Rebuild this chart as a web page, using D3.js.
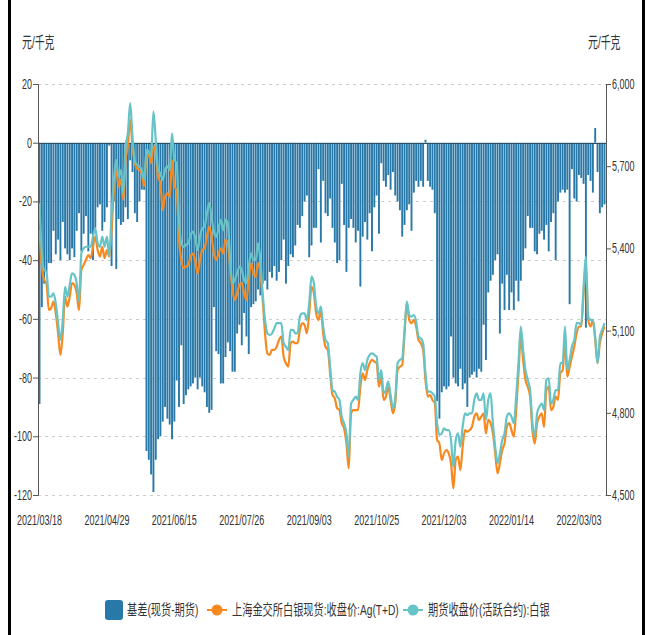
<!DOCTYPE html>
<html>
<head>
<meta charset="utf-8">
<script src="https://cdn.jsdelivr.net/npm/d3@7"></script>
<style>
    body { margin: 0; background: #fff; }
    svg { display: block; }
</style>
</head>
<body>
<svg id="chart" width="648" height="635"></svg>
<script>
"use strict";

// trading days run from 2021/03/18 to 2022/03/18, weekends and these holidays skipped
const startDay = "2021-03-18";
const endDay = "2022-03-18";
const holidays = ["2021-04-05", "2021-05-03", "2021-05-04", "2021-05-05", "2021-06-14",
    "2021-09-20", "2021-09-21", "2021-10-01", "2021-10-04", "2021-10-05", "2021-10-06",
    "2021-10-07", "2022-01-03", "2022-01-31", "2022-02-01", "2022-02-02", "2022-02-03",
    "2022-02-04"];

const tickDates = ["2021/03/18", "2021/04/29", "2021/06/15", "2021/07/26", "2021/09/03",
    "2021/10/25", "2021/12/03", "2022/01/14", "2022/03/03"];
const leftTicks = [20, 0, -20, -40, -60, -80, -100, -120];
const rightTicks = [6000, 5700, 5400, 5100, 4800, 4500];

const seriesNames = ["基差(现货-期货)", "上海金交所白银现货:收盘价:Ag(T+D)", "期货收盘价(活跃合约):白银"];
const unitLabel = "元/千克";

// 基差 (left axis)
const basis = [-89,-56,-48,-44,-41,-41,-30,-38,-33,-40,
    -27,-36,-38,-40,-36,-39,-30,-24,-37,-31,
    -25,-37,-31,-40,-29,-22,-21,-30,-27,-22,
    -1,-42,-20,-43,-26,-28,-27,-22,-26,-6,
    -10,-24,-27,-20,-16,-16,-105,-108,-113,-119,
    -108,-101,-100,-95,-90,-94,-96,-101,-95,-81,
    -90,-69,-89,-86,-84,-83,-82,-80,-84,-80,
    -83,-85,-90,-92,-91,-56,-71,-72,-82,-82,
    -73,-68,-71,-78,-78,-65,-62,-69,-58,-66,
    -72,-56,-55,-54,-50,-52,-48,-47,-50,-44,
    -46,-42,-47,-44,-40,-33,-48,-42,-38,-39,
    -35,-28,-29,-25,-20,-18,-39,-35,-29,-29,
    -9,-34,-13,-24,-25,-19,-29,-34,-41,-40,
    -14,-28,-44,-29,-26,-29,-34,-30,-49,-32,
    -27,-33,-24,-37,-22,-18,-31,-7,-13,-15,
    -11,-16,-10,-18,-20,-23,-32,-28,-23,-21,
    -30,-17,-13,-15,-13,-15,1,-13,-15,-16,
    -24,-88,-94,-85,-83,-84,-83,-66,-80,-82,
    -83,-77,-84,-82,-90,-80,-79,-78,-80,-77,
    -78,-62,-74,-51,-47,-45,-40,-38,-65,-48,
    -57,-45,-57,-51,-57,-47,-54,-47,-40,-36,
    -25,-29,-29,-37,-38,-31,-30,-33,-28,-37,
    -27,-24,-40,-20,-17,-16,-17,-16,-55,-9,
    -19,-20,-11,-12,-14,-63,-11,-13,-17,5,
    -10,-24,-22,-21];

// Ag(T+D) spot close (right axis)
const spot = [5467,5334,5285,5273,5175,5182,5206,5163,5090,5011,
    5090,5224,5187,5224,5273,5267,5236,5175,5321,5340,
    5358,5376,5364,5406,5443,5394,5370,5406,5364,5394,
    5370,5467,5613,5686,5626,5650,5577,5723,5772,5869,
    5772,5711,5692,5686,5674,5626,5735,5741,5711,5772,
    5747,5662,5638,5540,5589,5601,5589,5723,5626,5613,
    5431,5358,5328,5334,5340,5370,5382,5352,5309,5358,
    5394,5400,5443,5480,5443,5382,5358,5382,5400,5382,
    5431,5419,5334,5248,5212,5236,5267,5273,5236,5212,
    5285,5346,5309,5297,5346,5309,5212,5090,5017,5011,
    5030,5030,5041,5066,5078,5005,4981,4968,5054,5060,
    5054,5054,5103,5127,5121,5090,5163,5260,5236,5163,
    5139,5175,5090,5041,5030,4944,4865,4853,4817,4810,
    4762,4743,4688,4597,4798,4810,4810,4810,4895,4944,
    4920,4956,4981,4993,4987,4981,4895,4932,4847,4859,
    4895,4847,4798,4835,4956,4968,4974,5090,5200,5139,
    5127,5139,5115,5066,5054,5030,4920,4859,4865,4847,
    4835,4701,4688,4628,4652,4664,4652,4615,4524,4628,
    4640,4591,4676,4737,4731,4737,4749,4786,4798,4774,
    4786,4798,4725,4774,4762,4725,4652,4579,4615,4664,
    4688,4749,4762,4737,4713,4810,4944,5078,4993,4920,
    4895,4859,4737,4688,4762,4786,4798,4749,4883,4895,
    4810,4822,4859,4847,4944,4956,5054,4932,4968,5005,
    5041,5090,5115,5115,5236,5334,5139,5115,5139,5066,
    4981,5054,5090,5115];

// futures close, active contract (right axis)
const futures = [5565,5382,5321,5315,5224,5224,5236,5200,5127,5066,
    5139,5260,5224,5267,5309,5303,5273,5206,5382,5400,
    5406,5406,5406,5443,5473,5419,5406,5443,5406,5443,
    5372,5528,5650,5723,5662,5686,5601,5772,5820,5930,
    5808,5717,5705,5699,5686,5650,5760,5753,5735,5899,
    5796,5686,5674,5650,5686,5699,5686,5820,5723,5711,
    5504,5419,5406,5413,5419,5449,5461,5437,5394,5443,
    5473,5480,5528,5565,5516,5461,5443,5473,5504,5467,
    5504,5492,5358,5273,5285,5309,5334,5321,5285,5273,
    5334,5382,5358,5358,5419,5358,5236,5139,5090,5084,
    5090,5108,5127,5127,5127,5054,5041,5029,5103,5103,
    5090,5090,5151,5163,5163,5139,5200,5297,5273,5188,
    5163,5188,5115,5066,5054,4968,4883,4877,4859,4847,
    4786,4762,4725,4640,4834,4847,4859,4847,4944,4981,
    4956,4993,5011,5017,5011,5005,4920,4956,4871,4883,
    4914,4865,4816,4853,4981,4993,4999,5103,5206,5157,
    5151,5157,5133,5078,5072,5054,4944,4877,4877,4871,
    4859,4762,4719,4725,4743,4737,4737,4700,4603,4700,
    4725,4676,4750,4798,4792,4798,4798,4847,4871,4847,
    4847,4871,4774,4847,4871,4762,4676,4616,4652,4700,
    4725,4786,4798,4786,4762,4859,4981,5115,5030,4956,
    4920,4883,4762,4713,4798,4822,4834,4810,4920,4926,
    4834,4847,4883,4883,4981,4981,5115,4956,4993,5042,
    5066,5127,5127,5121,5260,5370,5151,5139,5139,5078,
    4981,5078,5103,5127];

const colors = { bar: "#2878a8", spot: "#f7891f", fut: "#66c4c6", text: "#333", axis: "#555" };

// build the list of trading days
const fmt = d3.timeFormat("%Y/%m/%d");
const iso = d3.timeFormat("%Y-%m-%d");
const dates = d3.timeDay.range(new Date(startDay + "T00:00"), d3.timeDay.offset(new Date(endDay + "T00:00"), 1))
    .filter(d => d.getDay() !== 0 && d.getDay() !== 6 && holidays.indexOf(iso(d)) < 0)
    .map(fmt);

const rows = dates.map((d, i) => ({ date: d, basis: basis[i], spot: spot[i], fut: futures[i] }));

const plot = { left: 38, right: 606, top: 84, bottom: 495 };
const svg = d3.select("#chart");

const x = d3.scalePoint().domain(dates).range([plot.left + 1.5, plot.right - 1.5]);
const yL = d3.scaleLinear().domain([-120, 20]).range([plot.bottom, plot.top]);
const yR = d3.scaleLinear().domain([4500, 6000]).range([plot.bottom, plot.top]);

// narrow text, the picture's fonts are squeezed sideways
function label(g, txt, px, py, anchor, size, sx) {
    return g.append("text")
        .attr("transform", "translate(" + px + "," + py + ") scale(" + sx + ",1)")
        .attr("text-anchor", anchor)
        .attr("font-family", "'Liberation Sans', 'Noto Sans CJK SC', sans-serif")
        .attr("font-size", size)
        .attr("fill", colors.text)
        .text(txt);
}

// frame
svg.append("line").attr("x1", 9.5).attr("x2", 9.5).attr("y1", 0).attr("y2", 635)
    .attr("stroke", "#000").attr("stroke-width", 3);
svg.append("line").attr("x1", 643.5).attr("x2", 643.5).attr("y1", 0).attr("y2", 635)
    .attr("stroke", "#000").attr("stroke-width", 3);

// grid
svg.append("g").selectAll("line")
    .data(leftTicks.filter(v => v !== 0))
    .join("line")
    .attr("x1", plot.left).attr("x2", plot.right)
    .attr("y1", d => Math.round(yL(d)) + 0.5).attr("y2", d => Math.round(yL(d)) + 0.5)
    .attr("stroke", "#ccc").attr("stroke-dasharray", "3,4");

// bars
svg.append("g").selectAll("rect")
    .data(rows)
    .join("rect")
    .attr("x", d => x(d.date) - 0.95)
    .attr("width", 1.9)
    .attr("y", d => Math.min(yL(d.basis), yL(0)))
    .attr("height", d => Math.abs(yL(d.basis) - yL(0)))
    .attr("fill", colors.bar);

// zero line
svg.append("line")
    .attr("x1", plot.left).attr("x2", plot.right)
    .attr("y1", Math.round(yL(0)) + 0.5).attr("y2", Math.round(yL(0)) + 0.5)
    .attr("stroke", "#2f4f63").attr("stroke-width", 1.2);

// price lines
const spotLine = d3.line().x(d => x(d.date)).y(d => yR(d.spot)).curve(d3.curveMonotoneX);
const futLine = d3.line().x(d => x(d.date)).y(d => yR(d.fut)).curve(d3.curveMonotoneX);
svg.append("path").datum(rows).attr("d", spotLine)
    .attr("fill", "none").attr("stroke", colors.spot).attr("stroke-width", 2.2);
svg.append("path").datum(rows).attr("d", futLine)
    .attr("fill", "none").attr("stroke", colors.fut).attr("stroke-width", 2.2);

// axes
const axL = svg.append("g").attr("transform", "translate(" + plot.left + ",0)")
    .call(d3.axisLeft(yL).tickValues(leftTicks).tickSize(5).tickFormat(""));
const axR = svg.append("g").attr("transform", "translate(" + plot.right + ",0)")
    .call(d3.axisRight(yR).tickValues(rightTicks).tickSize(5).tickFormat(""));
[axL, axR].forEach(a => {
    a.select(".domain").attr("stroke", colors.axis);
    a.selectAll(".tick line").attr("stroke", colors.axis);
});

const gl = svg.append("g");
leftTicks.forEach(v => label(gl, v, plot.left - 6, yL(v) + 5, "end", 15, 0.6));
rightTicks.forEach(v => label(gl, d3.format(",")(v), plot.right + 6, yR(v) + 5, "start", 15, 0.6));
tickDates.forEach(d => label(gl, d, x(d), 525, "middle", 15, 0.6));
label(gl, unitLabel, 22, 48, "start", 16, 0.62);
label(gl, unitLabel, 588, 48, "start", 16, 0.62);

// legend
const lg = svg.append("g");
lg.append("rect").attr("x", 105).attr("y", 600).attr("width", 18).attr("height", 20)
    .attr("rx", 3).attr("fill", colors.bar);
label(lg, seriesNames[0], 127, 615, "start", 15, 0.68);
[[207, colors.spot, 232, seriesNames[1]], [403, colors.fut, 428, seriesNames[2]]].forEach(m => {
    lg.append("line").attr("x1", m[0]).attr("x2", m[0] + 20).attr("y1", 610).attr("y2", 610)
        .attr("stroke", m[1]).attr("stroke-width", 2);
    lg.append("circle").attr("cx", m[0] + 10).attr("cy", 610).attr("r", 5.5).attr("fill", m[1]);
    label(lg, m[3], m[2], 615, "start", 15, 0.68);
});
</script>
</body>
</html>
